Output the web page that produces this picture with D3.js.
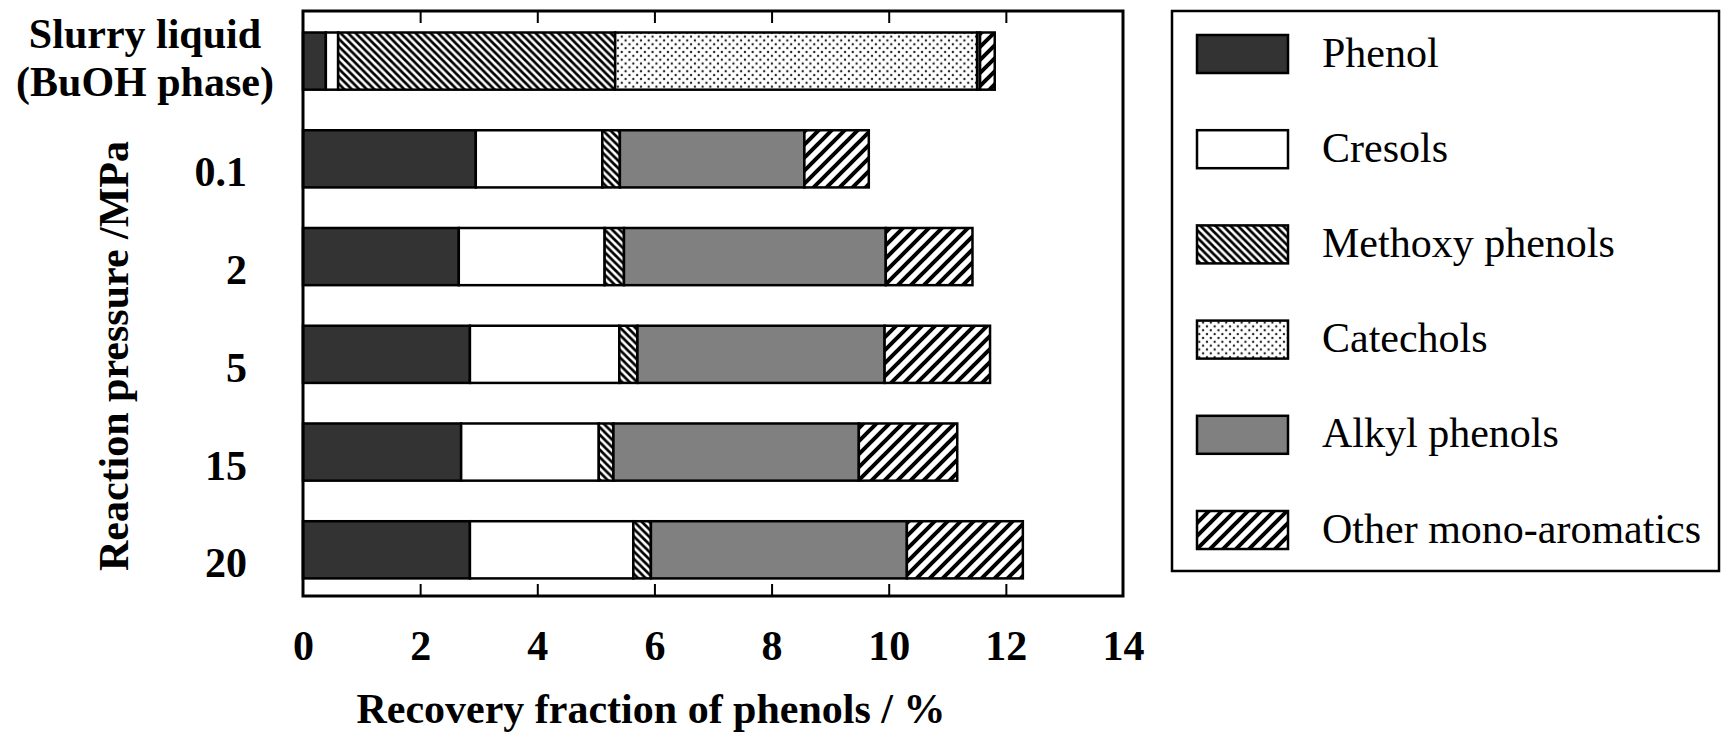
<!DOCTYPE html>
<html>
<head>
<meta charset="utf-8">
<script src="https://cdn.jsdelivr.net/npm/d3@7/dist/d3.min.js"></script>
<style>
  html, body { margin: 0; padding: 0; background: #fff; }
  svg { display: block; }
  text { font-family: "Liberation Serif", "Times New Roman", serif; fill: #000; }
</style>
</head>
<body>
<svg id="chart" width="1721" height="735"></svg>
<script>
// ---- data ----
const categories = ["Slurry liquid (BuOH phase)", "0.1", "2", "5", "15", "20"];
const seriesNames = ["Phenol", "Cresols", "Methoxy phenols", "Catechols", "Alkyl phenols", "Other mono-aromatics"];
const phenol    = [0.39, 2.95, 2.66, 2.85, 2.70, 2.85];
const cresols   = [0.21, 2.16, 2.49, 2.55, 2.35, 2.79];
const methoxy   = [4.73, 0.30, 0.33, 0.31, 0.25, 0.30];
const catechols = [6.18, 0.00, 0.00, 0.00, 0.00, 0.00];
const alkyl     = [0.05, 3.15, 4.47, 4.22, 4.19, 4.37];
const other     = [0.25, 1.10, 1.48, 1.80, 1.68, 1.98];
const xTicks = [0, 2, 4, 6, 8, 10, 12, 14];

const seriesValues = [phenol, cresols, methoxy, catechols, alkyl, other];
const fills = ["#333333", "#ffffff", "url(#pMethoxy)", "url(#pCatechol)", "#808080", "url(#pOther)"];

const table = categories.map((c, i) => {
  const row = { cat: c };
  seriesNames.forEach((s, j) => row[s] = seriesValues[j][i]);
  return row;
});

const svg = d3.select("#chart");
const plot = { left: 303, right: 1123, top: 11, bottom: 596 };

// ---- patterns ----
const defs = svg.append("defs");
const pm = defs.append("pattern").attr("id", "pMethoxy").attr("patternUnits", "userSpaceOnUse")
  .attr("width", 7.5).attr("height", 7.5);
pm.append("rect").attr("width", 7.5).attr("height", 7.5).attr("fill", "#fff");
pm.append("path").attr("d", "M-1,-1 L8.5,8.5 M-3,4.5 L3,10.5 M4.5,-3 L10.5,3")
  .attr("stroke", "#000").attr("stroke-width", 2.7);

const po = defs.append("pattern").attr("id", "pOther").attr("patternUnits", "userSpaceOnUse")
  .attr("width", 13).attr("height", 13);
po.append("rect").attr("width", 13).attr("height", 13).attr("fill", "#fff");
po.append("path").attr("d", "M-1,14 L14,-1 M-5,5 L5,-5 M8,18 L18,8")
  .attr("stroke", "#000").attr("stroke-width", 4);

const pc = defs.append("pattern").attr("id", "pCatechol").attr("patternUnits", "userSpaceOnUse")
  .attr("width", 7.7).attr("height", 7.7);
pc.append("rect").attr("width", 7.7).attr("height", 7.7).attr("fill", "#fff");
pc.append("circle").attr("cx", 1.9).attr("cy", 1.9).attr("r", 1.2).attr("fill", "#222");
pc.append("circle").attr("cx", 5.75).attr("cy", 5.75).attr("r", 1.2).attr("fill", "#222");

// ---- scales ----
const x = d3.scaleLinear().domain([0, 14]).range([plot.left, plot.right]);
const y = d3.scaleBand().domain(categories).range([plot.top, plot.bottom])
  .paddingInner(0.415).paddingOuter(0.2).align(0.55);

const stack = d3.stack().keys(seriesNames);
const stacked = stack(table);

// ---- bars ----
const layers = svg.append("g").selectAll("g").data(stacked).join("g")
  .attr("fill", (d, i) => fills[i]);
layers.selectAll("rect").data(d => d.filter(s => s[1] - s[0] > 0)).join("rect")
  .attr("x", d => x(d[0]))
  .attr("y", d => y(d.data.cat))
  .attr("width", d => x(d[1]) - x(d[0]))
  .attr("height", y.bandwidth())
  .attr("stroke", "#000").attr("stroke-width", 2.5);

// ---- frame ----
svg.append("rect").attr("x", plot.left).attr("y", plot.top)
  .attr("width", plot.right - plot.left).attr("height", plot.bottom - plot.top)
  .attr("fill", "none").attr("stroke", "#000").attr("stroke-width", 3);

// ---- axes ----
const xAxisB = d3.axisBottom(x).tickValues(xTicks).tickSizeInner(-12).tickSizeOuter(0).tickPadding(34)
  .tickFormat(d3.format("d"));
const gB = svg.append("g").attr("transform", `translate(0,${plot.bottom})`).call(xAxisB);
gB.select(".domain").remove();
gB.selectAll(".tick line").attr("stroke", "#000").attr("stroke-width", 2)
  .filter(d => d === 0 || d === 14).remove();
gB.selectAll(".tick text").attr("font-size", 42).attr("font-weight", "bold")
  .attr("font-family", "Liberation Serif, serif");

const xAxisT = d3.axisTop(x).tickValues(xTicks).tickSizeInner(-12).tickSizeOuter(0).tickFormat("");
const gT = svg.append("g").attr("transform", `translate(0,${plot.top})`).call(xAxisT);
gT.select(".domain").remove();
gT.selectAll(".tick line").attr("stroke", "#000").attr("stroke-width", 2)
  .filter(d => d === 0 || d === 14).remove();

// ---- y labels ----
const yl = svg.append("g");
categories.forEach((c, i) => {
  const bottom = y(c) + y.bandwidth();
  if (i === 0) {
    const t = yl.append("text").attr("text-anchor", "middle").attr("font-size", 42).attr("font-weight", "bold");
    t.append("tspan").attr("x", 145).attr("y", bottom - 42).text("Slurry liquid");
    t.append("tspan").attr("x", 145).attr("y", bottom + 6).text("(BuOH phase)");
  } else {
    yl.append("text").attr("text-anchor", "end").attr("x", 247).attr("y", bottom - 1)
      .attr("font-size", 42).attr("font-weight", "bold").text(c);
  }
});

// ---- axis titles ----
svg.append("text").attr("transform", "translate(128,356) rotate(-90)").attr("text-anchor", "middle")
  .attr("font-size", 42).attr("font-weight", "bold").text("Reaction pressure /MPa");
svg.append("text").attr("x", 651).attr("y", 723).attr("text-anchor", "middle")
  .attr("font-size", 42).attr("font-weight", "bold").text("Recovery fraction of phenols / %");

// ---- legend ----
const lg = svg.append("g");
lg.append("rect").attr("x", 1172).attr("y", 11).attr("width", 547).attr("height", 560)
  .attr("fill", "none").attr("stroke", "#000").attr("stroke-width", 2.5);
const ly = d3.scalePoint().domain(seriesNames).range([35, 511]);
const items = lg.selectAll("g.item").data(seriesNames).join("g").attr("class", "item")
  .attr("transform", d => `translate(0,${ly(d)})`);
items.append("rect").attr("x", 1197).attr("y", 0).attr("width", 91).attr("height", 38)
  .attr("fill", (d, i) => fills[i]).attr("stroke", "#000").attr("stroke-width", 2.5);
items.append("text").attr("x", 1322).attr("y", 31.5).attr("font-size", 42).text(d => d);
</script>
</body>
</html>
